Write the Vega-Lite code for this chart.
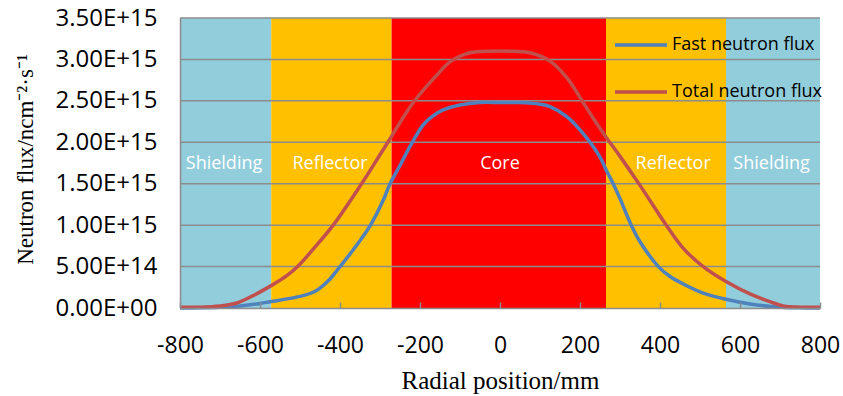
{
  "$schema": "https://vega.github.io/schema/vega-lite/v6.json",
  "width": 640,
  "height": 290,
  "autosize": "none",
  "padding": {"left": 180, "top": 18, "right": 23, "bottom": 88},
  "background": "white",
  "config": {"view": {"stroke": null}, "font": "Open Sans"},
  "datasets": {
    "bands": [
      {"region": "Shielding", "start": -800, "end": -572, "labelX": -690},
      {"region": "Reflector", "start": -572, "end": -271, "labelX": -425},
      {"region": "Core", "start": -271, "end": 265, "labelX": 0},
      {"region": "Reflector", "start": 265, "end": 565, "labelX": 433},
      {"region": "Shielding", "start": 565, "end": 800, "labelX": 679}
    ],
    "grid": [
      {"g": 5e14}, {"g": 1e15}, {"g": 1.5e15}, {"g": 2e15}, {"g": 2.5e15}, {"g": 3e15}, {"g": 3.5e15}
    ],
    "flux": [
      {"x": -800, "series": "Fast neutron flux", "flux": 0.0},
      {"x": -750, "series": "Fast neutron flux", "flux": 0.002e15},
      {"x": -700, "series": "Fast neutron flux", "flux": 0.008e15},
      {"x": -650, "series": "Fast neutron flux", "flux": 0.025e15},
      {"x": -600, "series": "Fast neutron flux", "flux": 0.055e15},
      {"x": -575, "series": "Fast neutron flux", "flux": 0.076e15},
      {"x": -500, "series": "Fast neutron flux", "flux": 0.14e15},
      {"x": -467, "series": "Fast neutron flux", "flux": 0.19e15},
      {"x": -450, "series": "Fast neutron flux", "flux": 0.24e15},
      {"x": -425, "series": "Fast neutron flux", "flux": 0.35e15},
      {"x": -408, "series": "Fast neutron flux", "flux": 0.45e15},
      {"x": -380, "series": "Fast neutron flux", "flux": 0.62e15},
      {"x": -358, "series": "Fast neutron flux", "flux": 0.76e15},
      {"x": -325, "series": "Fast neutron flux", "flux": 0.99e15},
      {"x": -292, "series": "Fast neutron flux", "flux": 1.30e15},
      {"x": -275, "series": "Fast neutron flux", "flux": 1.50e15},
      {"x": -250, "series": "Fast neutron flux", "flux": 1.72e15},
      {"x": -225, "series": "Fast neutron flux", "flux": 1.95e15},
      {"x": -192, "series": "Fast neutron flux", "flux": 2.21e15},
      {"x": -170, "series": "Fast neutron flux", "flux": 2.31e15},
      {"x": -142, "series": "Fast neutron flux", "flux": 2.39e15},
      {"x": -100, "series": "Fast neutron flux", "flux": 2.45e15},
      {"x": -50, "series": "Fast neutron flux", "flux": 2.48e15},
      {"x": 0, "series": "Fast neutron flux", "flux": 2.48e15},
      {"x": 50, "series": "Fast neutron flux", "flux": 2.48e15},
      {"x": 100, "series": "Fast neutron flux", "flux": 2.46e15},
      {"x": 125, "series": "Fast neutron flux", "flux": 2.43e15},
      {"x": 167, "series": "Fast neutron flux", "flux": 2.31e15},
      {"x": 200, "series": "Fast neutron flux", "flux": 2.15e15},
      {"x": 225, "series": "Fast neutron flux", "flux": 2.0e15},
      {"x": 250, "series": "Fast neutron flux", "flux": 1.82e15},
      {"x": 267, "series": "Fast neutron flux", "flux": 1.65e15},
      {"x": 283, "series": "Fast neutron flux", "flux": 1.50e15},
      {"x": 300, "series": "Fast neutron flux", "flux": 1.32e15},
      {"x": 329, "series": "Fast neutron flux", "flux": 0.99e15},
      {"x": 350, "series": "Fast neutron flux", "flux": 0.80e15},
      {"x": 396, "series": "Fast neutron flux", "flux": 0.50e15},
      {"x": 425, "series": "Fast neutron flux", "flux": 0.38e15},
      {"x": 458, "series": "Fast neutron flux", "flux": 0.29e15},
      {"x": 508, "series": "Fast neutron flux", "flux": 0.18e15},
      {"x": 565, "series": "Fast neutron flux", "flux": 0.105e15},
      {"x": 625, "series": "Fast neutron flux", "flux": 0.048e15},
      {"x": 683, "series": "Fast neutron flux", "flux": 0.016e15},
      {"x": 750, "series": "Fast neutron flux", "flux": 0.002e15},
      {"x": 800, "series": "Fast neutron flux", "flux": 0.0},
      {"x": -800, "series": "Total neutron flux", "flux": 0.01e15},
      {"x": -750, "series": "Total neutron flux", "flux": 0.01e15},
      {"x": -700, "series": "Total neutron flux", "flux": 0.024e15},
      {"x": -658, "series": "Total neutron flux", "flux": 0.06e15},
      {"x": -617, "series": "Total neutron flux", "flux": 0.15e15},
      {"x": -572, "series": "Total neutron flux", "flux": 0.27e15},
      {"x": -533, "series": "Total neutron flux", "flux": 0.39e15},
      {"x": -504, "series": "Total neutron flux", "flux": 0.51e15},
      {"x": -467, "series": "Total neutron flux", "flux": 0.71e15},
      {"x": -417, "series": "Total neutron flux", "flux": 1.0e15},
      {"x": -346, "series": "Total neutron flux", "flux": 1.50e15},
      {"x": -300, "series": "Total neutron flux", "flux": 1.85e15},
      {"x": -270, "series": "Total neutron flux", "flux": 2.08e15},
      {"x": -242, "series": "Total neutron flux", "flux": 2.30e15},
      {"x": -212, "series": "Total neutron flux", "flux": 2.51e15},
      {"x": -158, "series": "Total neutron flux", "flux": 2.81e15},
      {"x": -125, "series": "Total neutron flux", "flux": 2.97e15},
      {"x": -75, "series": "Total neutron flux", "flux": 3.08e15},
      {"x": -25, "series": "Total neutron flux", "flux": 3.10e15},
      {"x": 25, "series": "Total neutron flux", "flux": 3.10e15},
      {"x": 75, "series": "Total neutron flux", "flux": 3.08e15},
      {"x": 125, "series": "Total neutron flux", "flux": 2.98e15},
      {"x": 167, "series": "Total neutron flux", "flux": 2.78e15},
      {"x": 204, "series": "Total neutron flux", "flux": 2.51e15},
      {"x": 233, "series": "Total neutron flux", "flux": 2.29e15},
      {"x": 267, "series": "Total neutron flux", "flux": 2.05e15},
      {"x": 300, "series": "Total neutron flux", "flux": 1.83e15},
      {"x": 350, "series": "Total neutron flux", "flux": 1.48e15},
      {"x": 417, "series": "Total neutron flux", "flux": 0.99e15},
      {"x": 460, "series": "Total neutron flux", "flux": 0.71e15},
      {"x": 508, "series": "Total neutron flux", "flux": 0.50e15},
      {"x": 565, "series": "Total neutron flux", "flux": 0.32e15},
      {"x": 625, "series": "Total neutron flux", "flux": 0.17e15},
      {"x": 675, "series": "Total neutron flux", "flux": 0.076e15},
      {"x": 708, "series": "Total neutron flux", "flux": 0.026e15},
      {"x": 750, "series": "Total neutron flux", "flux": 0.01e15},
      {"x": 800, "series": "Total neutron flux", "flux": 0.01e15}
    ]
  },
  "encoding": {
    "x": {
      "type": "quantitative",
      "scale": {"domain": [-800, 800], "nice": false, "zero": false},
      "axis": {
        "values": [-800, -600, -400, -200, 0, 200, 400, 600, 800],
        "labelExpr": "toString(datum.value)",
        "labelFlush": false,
        "labelOverlap": false,
        "grid": false,
        "zindex": 1,
        "domainColor": "#8c8c8c",
        "domainWidth": 1.5,
        "tickColor": "#8c8c8c",
        "tickWidth": 1.5,
        "tickSize": -6,
        "labelPadding": 32,
        "labelFont": "Open Sans",
        "labelFontSize": 23,
        "labelColor": "#000000",
        "title": "Radial position/mm",
        "titleFont": "Liberation Serif",
        "titleFontSize": 25,
        "titleFontWeight": "normal",
        "titleColor": "#000000",
        "titleX": 320,
        "titleY": 80,
        "titleBaseline": "alphabetic"
      }
    }
  },
  "layer": [
    {
      "data": {"name": "bands"},
      "mark": {"type": "rect"},
      "encoding": {
        "x": {"field": "start", "type": "quantitative"},
        "x2": {"field": "end"},
        "fill": {
          "field": "region",
          "type": "nominal",
          "scale": {"domain": ["Shielding", "Reflector", "Core"], "range": ["#92CDDC", "#FFC000", "#FF0000"]},
          "legend": null
        }
      }
    },
    {
      "data": {"name": "grid"},
      "mark": {"type": "rule", "color": "#8c8c8c", "strokeWidth": 1.5},
      "encoding": {
        "y": {"field": "g", "type": "quantitative"}
      }
    },
    {
      "data": {"name": "bands"},
      "mark": {"type": "text", "color": "#ffffff", "font": "Open Sans", "fontSize": 18, "baseline": "middle", "align": "center"},
      "encoding": {
        "x": {"field": "labelX", "type": "quantitative"},
        "y": {"datum": 1.74e15, "type": "quantitative"},
        "text": {"field": "region"}
      }
    },
    {
      "data": {"name": "flux"},
      "mark": {"type": "line", "interpolate": "catmull-rom", "strokeWidth": 3.5},
      "encoding": {
        "x": {"field": "x", "type": "quantitative"},
        "y": {
          "field": "flux",
          "type": "quantitative",
          "scale": {"domain": [0, 3.5e15], "nice": false},
          "axis": {
            "values": [0, 5e14, 1e15, 1.5e15, 2e15, 2.5e15, 3e15, 3.5e15],
            "labelExpr": "datum.value == 0 ? '0.00E+00' : replace(format(datum.value, '.2e'), 'e', 'E')",
            "grid": false,
            "ticks": false,
            "zindex": 1,
            "domainColor": "#8c8c8c",
            "domainWidth": 1.5,
            "labelPadding": 23,
            "labelFont": "Open Sans",
            "labelFontSize": 24,
            "labelColor": "#000000",
            "title": "Neutron flux/ncm⁻²·s⁻¹",
            "titleFont": "Liberation Serif",
            "titleFontSize": 23,
            "titleFontWeight": "normal",
            "titleColor": "#000000",
            "titleX": -148,
            "titleY": 141,
            "titleAngle": -90,
            "titleBaseline": "alphabetic",
            "titleAlign": "center"
          }
        },
        "color": {
          "field": "series",
          "type": "nominal",
          "scale": {"domain": ["Fast neutron flux", "Total neutron flux"], "range": ["#4F81BD", "#C0504D"]},
          "legend": {
            "title": null,
            "orient": "none",
            "legendX": 433,
            "legendY": -1,
            "padding": 0,
            "symbolType": "stroke",
            "symbolSize": 2704,
            "symbolStrokeWidth": 3.5,
            "rowPadding": 10,
            "labelOffset": 3,
            "labelFont": "Open Sans",
            "labelFontSize": 18,
            "labelColor": "#000000",
            "labelLimit": 300
          }
        }
      }
    }
  ]
}
